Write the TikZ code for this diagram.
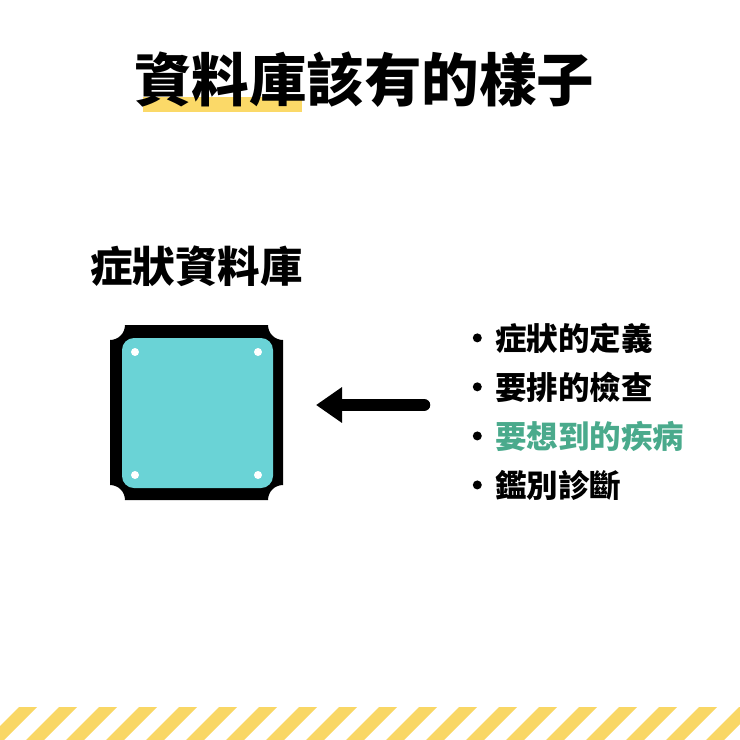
\documentclass[tikz,border=0pt]{standalone}
\usepackage{fontspec}
\usepackage{tikz}
\usetikzlibrary{positioning}
\usetikzlibrary{arrows.meta}
\newfontfamily\cjk{Noto Sans CJK TC Black}

\definecolor{HighlightYellow}{HTML}{FBD968}
\definecolor{StripeYellow}{HTML}{F9D765}
\definecolor{ScreenTeal}{HTML}{6AD3D6}
\definecolor{ItemGreen}{HTML}{4AAA8C}

\tikzset{
    titletext/.style = {font=\cjk\fontsize{57.5}{60}\selectfont, inner sep=0pt, anchor=base west},
    labeltext/.style = {font=\cjk\fontsize{42.5}{45}\selectfont, inner sep=0pt, anchor=base west},
    itemtext/.style  = {font=\cjk\fontsize{31.5}{34}\selectfont, inner sep=0pt, anchor=base west},
    bulletdot/.style = {circle, fill=black, minimum size=9pt, inner sep=0pt},
    screwdot/.style  = {circle, fill=white, minimum size=8pt, inner sep=0pt},
}

\begin{document}
\begin{tikzpicture}[x=1pt, y=-1pt]
    \useasboundingbox (0,0) rectangle (740,740);

    %Title
    \fill[HighlightYellow] (143,97) rectangle (302,112);
    \node[titletext] (Title) at (134,101) {資料庫該有的樣子};

    %Database
    \node[labeltext] (DatabaseLabel) at (90,282) {症狀資料庫};

    \fill[black] (125,325) -- (268,325) arc (180:90:15)
        -- (283,485) arc (270:180:15)
        -- (125,500) arc (0:-90:15)
        -- (110,340) arc (90:0:15) -- cycle;
    \fill[ScreenTeal, rounded corners=12pt] (122,338) rectangle (273,488);

    \node[screwdot] (ScrewTL) at (135,352) {};
    \node[screwdot] (ScrewTR) at (258,352) {};
    \node[screwdot] (ScrewBL) at (135,475) {};
    \node[screwdot] (ScrewBR) at (258,475) {};

    %-------------------------------------------
    %Items

    \node[itemtext] (Item1) at (495,350) {症狀的定義};
    \node[below = +49.00 pt of Item1.base west, itemtext] (Item2) {要排的檢查};
    \node[below = +49.00 pt of Item2.base west, itemtext, text=ItemGreen] (Item3) {要想到的疾病};
    \node[below = +49.00 pt of Item3.base west, itemtext] (Item4) {鑑別診斷};

    \node[bulletdot, left = +13.00 pt of Item1.west] (Bullet1) {};
    \node[bulletdot, left = +13.00 pt of Item2.west] (Bullet2) {};
    \node[bulletdot, left = +13.00 pt of Item3.west] (Bullet3) {};
    \node[bulletdot, left = +13.00 pt of Item4.west] (Bullet4) {};

    %Arrow
    \coordinate (ArrowStart) at (424,405);
    \coordinate (ArrowEnd) at (316,405);
    \draw[line width=12.5pt, line cap=round, -{Triangle[length=26pt, width=34pt]}] (ArrowStart) -- (ArrowEnd);

    %-------------------------------------------
    %Stripes

    \begin{scope}
        \clip (0,0) rectangle (740,740);
        \foreach \s in {-1,...,19}
            \fill[StripeYellow] ({19+40*\s},707) -- ++(18,0) -- ++(-33,33) -- ++(-18,0) -- cycle;
    \end{scope}

\end{tikzpicture}
\end{document}
